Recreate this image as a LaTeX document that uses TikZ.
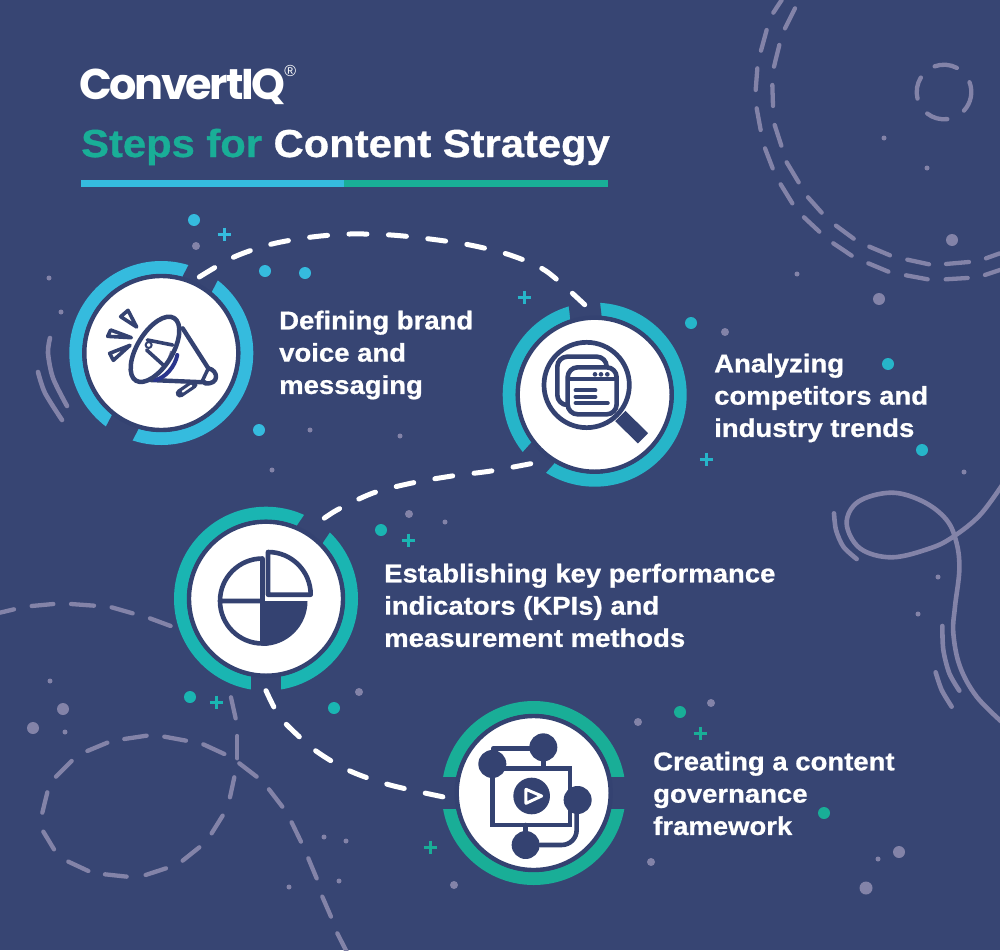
\documentclass[tikz,border=0pt]{standalone}
\usepackage{fontspec}
\setmainfont[FakeStretch=1.07,BoldFeatures={FakeBold=0.8}]{Liberation Sans}
\newfontfamily\logofont[LetterSpace=-5.5]{Poppins}
\newfontfamily\regfont{Liberation Sans}
\usetikzlibrary{calc}
\definecolor{bg}{HTML}{374573}
\definecolor{ink}{HTML}{344271}
\definecolor{deco}{HTML}{8383A8}
\definecolor{cyanA}{HTML}{35BBDE}
\definecolor{cyanB}{HTML}{26B5C9}
\definecolor{tealA}{HTML}{1AB5B2}
\definecolor{tealB}{HTML}{19AE97}
\tikzset{
  disc/.style={circle,fill=white,draw=ink,line width=4.4pt,minimum size=154pt,inner sep=0pt},
  link/.style={draw=white,line width=5pt,line cap=round,dash pattern=on 18pt off 21.5pt},
  decoline/.style={draw=deco,line width=4.3pt,line cap=round},
  decoswirl/.style={draw=deco,line width=4.6pt,line cap=round},
  icon/.style={draw=ink,line width=4.6pt,line join=round,line cap=round},
  steptext/.style={text=white,font=\fontsize{25.7pt}{32.3pt}\selectfont\bfseries,align=left,anchor=north west,inner sep=0pt},
}
\newcommand\bandring[3]{\draw[line width=13pt,#3] (#1,#2) circle (85.5);}
\newcommand\bandgap[4]{\draw[line width=#4pt,bg] ($(#1,#2)+(#3:72)$) -- ($(#1,#2)+(#3:97)$);}
\newcommand\plusmark[3]{\draw[line width=3pt,#3] (#1-6.5,#2) -- (#1+6.5,#2) (#1,#2-6.5) -- (#1,#2+6.5);}
\begin{document}
\begin{tikzpicture}[x=1pt,y=-1pt]
\useasboundingbox (0,0) rectangle (1000,950);
\fill[bg] (0,0) rectangle (1000,950);
% decorative dashes, upper right
\begin{scope}[shift={(740,0)},x=0.3333pt,y=-0.3333pt]
\foreach \a/\b/\c/\d in {100/38/125/0,63/152/80/90,47/270/52/205,50/325/62/390,75/445/98/505,122/553/157/610,192/652/238/695,280/730/335/767,385/790/445/815,498/826/563/838,617/838/683/834,735/825/780/810,135/85/165/25,102/200/118/135,97/255/99/318,104/375/124/437,140/487/176/547,204/592/245/638,288/677/341/716,388/740/450/766,502/779/567/793,618/792/687/786,738/775/780/760}
  \draw[decoline] (\a,\b) -- (\c,\d);
\end{scope}
\foreach \p/\q in {-110/-62,-21/43,83/128,166/212}
  \draw[decoline] ($(944,92)+(\p:27.3)$) arc (\p:\q:27.3);
% decorative dashes, lower left
\begin{scope}[shift={(0,590)},x=0.3333pt,y=-0.3333pt]
\foreach \a/\b/\c/\d in {0/68/42/58,95/48/160/42,213/42/282/47,335/52/398/70,450/85/512/108,262/483/322/458,373/447/440/437,493/440/558/452,610/463/673/492,712/438/712/505,693/322/707/385,718/520/770/560,807/598/847/650,875/697/903/755,925/805/950/865,967/920/993/980,1012/1030/1040/1085,703/562/690/622,668/677/635/730,598/772/548/812,498/835/437/855,380/860/315/853,265/843/205/815,162/778/130/725,127/668/142/607,168/560/215/513}
  \draw[decoline] (\a,\b) -- (\c,\d);
\end{scope}
% swirl, right
\begin{scope}[shift={(800,460)},x=0.3333pt,y=-0.3333pt]
\draw[decoswirl] plot[smooth,tension=0.6] coordinates {(610,70) (540,165) (460,230) (390,265) (275,292) (180,265) (140,190) (175,125) (275,98) (370,125) (440,180) (470,250) (478,330) (465,440) (460,520) (480,620) (530,710) (610,790)};
\draw[decoswirl] plot[smooth] coordinates {(102,160) (108,210) (130,260) (170,297)};
\draw[decoswirl] plot[smooth] coordinates {(427,498) (430,570) (448,640) (478,692)};
\draw[decoswirl] plot[smooth] coordinates {(407,637) (425,690) (455,740)};
\end{scope}
\draw[decoswirl] plot[smooth] coordinates {(50,338) (48,353) (53,378) (67,406)};
\draw[decoswirl] plot[smooth] coordinates {(38,372) (45,393) (62,420)};
% dots
\foreach \x/\y/\r in {196/246/4,310/430/2.5,400/436/2.5,49/278/2.5,61/312/2.5,272/470/2.5,725/332/4,964/472/2.5,409/514/4,445/522/2.5,359/692/4,638/722/4,711/703/4,454/885/4,651/862/4,899/852/6,866/888/6.5,878/859/2.5,50/681/2.5,63/709/6,33/728/6,65/732/2.5,324/837/2.5,346/841/2.5,339/881/2.5,289/887/2.5,884/138/2.5,927/168/2.5,952/240/6,797/274/2.5,879/299/6,938/577/2.5,918/614/2.5}
  \fill[deco] (\x,\y) circle (\r);
\foreach \x/\y in {194/220,265/271,305/273,259/430} \fill[cyanA] (\x,\y) circle (6);
\foreach \x/\y in {691/323,888/364,922/450} \fill[cyanB] (\x,\y) circle (6);
\foreach \x/\y in {381/530,190/697,334/708} \fill[tealA] (\x,\y) circle (6);
\foreach \x/\y in {680/712,824/813} \fill[tealB] (\x,\y) circle (6);
\plusmark{224}{234}{cyanA}
\plusmark{524}{297}{cyanB}
\plusmark{706}{459}{cyanB}
\plusmark{408}{540}{tealA}
\plusmark{216}{702}{tealA}
\plusmark{700}{733}{tealB}
\plusmark{430}{847}{tealB}
% rings
\bandring{161.3}{353}{cyanA}
\bandgap{161.3}{353}{-62.5}{33}
\bandgap{161.3}{353}{117.6}{30}
\bandring{594.7}{394.7}{cyanB}
\bandgap{594.7}{394.7}{-96.5}{31.5}
\bandgap{594.7}{394.7}{131.7}{31}
\bandring{266}{598.7}{tealA}
\bandgap{266}{598.7}{-55.8}{31}
\bandgap{266}{598.7}{90}{30.6}
\bandring{533.7}{793}{tealB}
\bandgap{533.7}{793}{0}{31.4}
\bandgap{533.7}{793}{180}{31.4}
\node[disc] (s1) at (161.3,353) {};
\node[disc] (s2) at (594.7,394.7) {};
\node[disc] (s3) at (266,598.7) {};
\node[disc] (s4) at (533.7,793) {};
% connectors
\coordinate (c1a) at ($(s1)+(38,-76)$);
\coordinate (c1b) at ($(s2)+(-10,-90)$);
\coordinate (c2a) at ($(s2)+(-64,69)$);
\coordinate (c2b) at ($(s3)+(52,-76)$);
\coordinate (c3a) at ($(s3)+(0,92)$);
\coordinate (c3b) at ($(s4)+(-90,4)$);
\draw[link] plot[smooth] coordinates {(c1a) (234,257) (272,244) (312,237) (350,234) (391,235) (430,239) (470,245) (510,255) (546,271) (c1b)};
\draw[link] plot[smooth] coordinates {(c2a) (491,471) (452,476) (412,483) (373,493) (337,510) (c2b)};
\draw[link] plot[smooth] coordinates {(c3a) (275,709) (286,724) (316,751) (350,771) (390,785) (c3b)};
% megaphone
\begin{scope}[shift={(90,295)},x=0.3333pt,y=-0.3333pt]
\draw[icon,line width=3.6pt,fill=white] (114,46) -- (92,65) -- (140,96) -- cycle;
\draw[icon,line width=3.6pt,fill=white] (62,105) -- (53,124) -- (124,128) -- cycle;
\draw[icon,line width=3.6pt,fill=white] (59,175) -- (70,196) -- (120,151) -- cycle;
\draw[icon,line width=4.4pt] (278,100) -- (355,220);
\draw[icon,line width=4.4pt] (180,255) -- (345,262);
\draw[icon,line width=4.4pt] (355,220) .. controls (385,225) and (390,270) .. (345,265);
\draw[icon,line width=3.5pt] (355,220) -- (335,262);
\draw[icon,line width=8.5pt] (270,295) -- (310,268);
\draw[white,line width=2pt,line cap=round] (278,290) -- (304,272);
\draw[deco,line width=1.4pt] (228,210) -- (243,168);
\draw[icon,line width=3.6pt] (172,135) -- (248,150);
\draw[icon,line width=3.6pt] (170,165) -- (222,212);
\draw[icon,line width=2pt,fill=white] (176,150) circle (9);
\draw[draw=ink!80!blue,line width=4pt,line cap=round] (195,255) .. controls (225,250) and (255,215) .. (262,180);
\draw[icon,line width=4.5pt,rotate around={58.6:(195,163)}] (195,163) ellipse (110 and 53);
\end{scope}
% magnifier
\begin{scope}[shift={(490,290)},x=0.3333pt,y=-0.3333pt]
\draw[ink,line width=14.5pt] (391,378) -- (459,445);
\draw[icon,line width=4.7pt,fill=white] (290,285) circle (128);
\draw[icon,fill=white,rounded corners=10pt] (202,200) rectangle (350,345);
\draw[icon,fill=white,rounded corners=10pt] (233,232) rectangle (380,373);
\draw[ink,line width=4pt] (233,268) -- (380,268);
\foreach \x in {315,333,352} \fill[ink] (\x,253) circle (7);
\draw[ink,line width=4.2pt,line cap=round] (257,301) -- (316,301) (257,320) -- (316,320) (257,339) -- (353,339);
\end{scope}
% pie
\fill[ink] (262.5,601) -- ++(45,0) arc (0:90:45) -- cycle;
\draw[icon,line join=miter] (262.5,558.5) arc (-90:-270:42.5) (220,601) -- (262.5,601) (262.5,558.5) -- (262.5,643.5);
\draw[icon] (268,594.7) -- ++(0,-42.7) arc (-90:0:42.7) -- cycle;
% network
\begin{scope}[shift={(430,690)},x=0.3333pt,y=-0.3333pt]
\draw[icon,line cap=butt,line join=miter] (187,235) rectangle (420,405);
\draw[icon] (190,200) -- (190,175) -- (300,175);
\draw[icon] (340,210) -- (340,235) (287,405) -- (287,430);
\draw[icon] (440,370) -- (440,420) arc (0:90:45) -- (330,465);
\fill[ink] (340,172) circle (42) (187,222) circle (42) (443,330) circle (42) (287,465) circle (42) (305,318) circle (55);
\draw[white,line width=3pt,line join=round] (288,298) -- (288,340) -- (335,318) -- cycle;
\end{scope}
% texts
\node[text=white,anchor=base west,inner sep=0pt] (logo) at (79,99) {\fontsize{43pt}{43pt}\logofont\bfseries ConvertIQ\kern-1pt\raisebox{23pt}{\regfont\mdseries\fontsize{16pt}{16pt}\selectfont ®}};
\node[anchor=base west,inner sep=0pt,font=\fontsize{39pt}{39pt}\selectfont\bfseries] (title) at (81,157) {\textcolor{tealB}{Steps for} \textcolor{white}{Content Strategy}};
\fill[cyanA] (81,180) rectangle (344,187);
\fill[tealB] (344,180) rectangle (608,187);
\node[steptext] (t1) at (279,310.5) {Defining brand\\voice and\\messaging};
\node[steptext] (t2) at (714,353.5) {Analyzing\\competitors and\\industry trends};
\node[steptext] (t3) at (384,563.5) {Establishing key performance\\indicators (KPIs) and\\measurement methods};
\node[steptext] (t4) at (653,751.5) {Creating a content\\governance\\framework};
\end{tikzpicture}
\end{document}
